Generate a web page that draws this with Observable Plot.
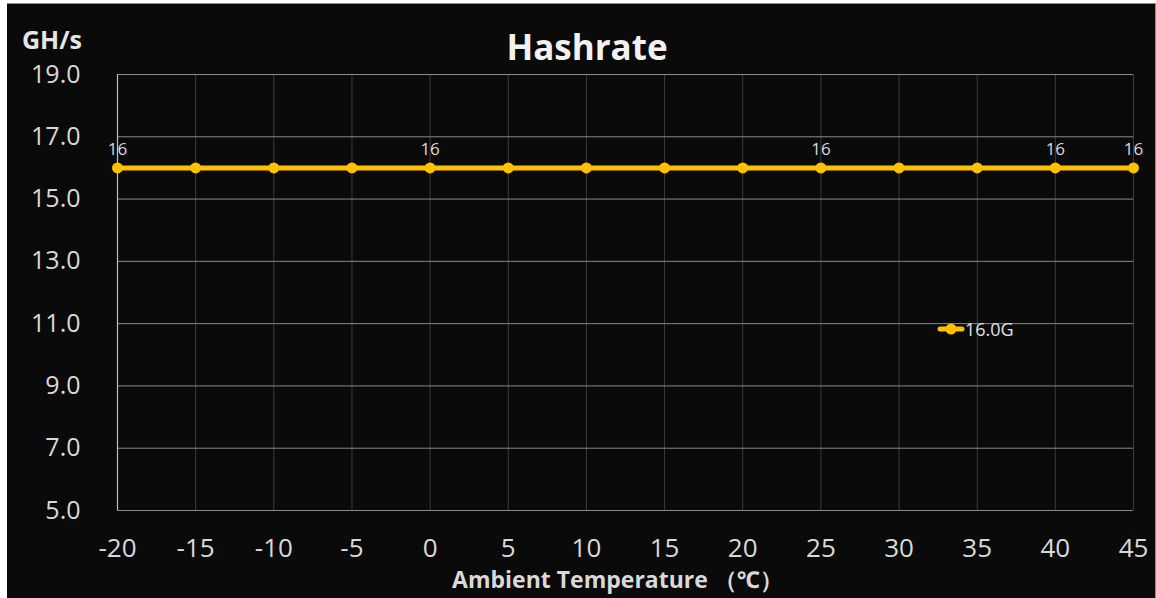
<!DOCTYPE html>
<html>
<head>
<meta charset="utf-8">
<script src="https://cdn.jsdelivr.net/npm/d3@7"></script>
<script src="https://cdn.jsdelivr.net/npm/@observablehq/plot@0.6"></script>
<style>
  html, body { margin: 0; padding: 0; background: #ffffff; }
  body { width: 1156px; height: 598px; position: relative; overflow: hidden; font-family: "Open Sans", "Noto Sans", sans-serif; }
  #panel { position: absolute; left: 7px; top: 3px; width: 1148px; height: 595px; background: #0a0a0a; border-top: 1px solid #a08a50; border-right: 1px solid #a08a50; }
  #chart { position: absolute; left: 0; top: 0; }
  .title { position: absolute; left: 0; width: 1160px; top: 19px; text-align: center; color: #f2f2f2; font-weight: bold; font-size: 35px; line-height: 48px; }
  .unit { position: absolute; left: 15px; top: 23px; color: #e6e6e6; font-weight: bold; font-size: 25px; line-height: 24px; }
  .legend { position: absolute; left: 930px; top: 313px; color: #e0e0e0; font-size: 18px; display: flex; align-items: center; }
</style>
</head>
<body>
<div id="panel">
  <div id="chart"></div>
  <div class="title">Hashrate</div>
  <div class="unit">GH/s</div>
  <div class="legend">
    <svg width="28" height="20"><line x1="3" y1="10" x2="25" y2="10" stroke="#FFC000" stroke-width="5" stroke-linecap="round"/><circle cx="14" cy="10" r="5.5" fill="#FFC000"/></svg>
    <span>16.0G</span>
  </div>
</div>
<script>
const temperatures = [-20, -15, -10, -5, 0, 5, 10, 15, 20, 25, 30, 35, 40, 45];
const hashrate = [16, 16, 16, 16, 16, 16, 16, 16, 16, 16, 16, 16, 16, 16];
const labeledTemps = [-20, 0, 25, 40, 45];
const xTicks = [-20, -15, -10, -5, 0, 5, 10, 15, 20, 25, 30, 35, 40, 45];
const yTicks = [5, 7, 9, 11, 13, 15, 17, 19];

const data = temperatures.map((t, i) => ({t, v: hashrate[i]}));
const labeled = data.filter(d => labeledTemps.includes(d.t));

const chart = Plot.plot({
  width: 1148,
  height: 594,
  marginLeft: 110,
  marginRight: 22,
  marginTop: 70,
  marginBottom: 88,
  style: { background: "transparent", color: "#e0e0e0", fontFamily: "'Open Sans', 'Noto Sans', sans-serif" },
  x: { domain: [-20, 45], ticks: xTicks, label: null },
  y: { domain: [5, 19], ticks: yTicks, label: null },
  marks: [
    Plot.gridX(xTicks, { stroke: "#3c3c3c", strokeOpacity: 1, strokeWidth: 1 }),
    Plot.gridY(yTicks, { stroke: "#8a8a8a", strokeOpacity: 1, strokeWidth: 1 }),
    Plot.ruleX([-20], { stroke: "#bfbfbf", strokeWidth: 1.2 }),
    Plot.axisX({ ticks: xTicks, tickSize: 0, tickPadding: 28, fontSize: 26, fill: "#d9d9d9", tickFormat: d => String(d), label: null }),
    Plot.axisY({ ticks: yTicks, tickSize: 0, tickPadding: 37, fontSize: 25, fill: "#d9d9d9", tickFormat: d3.format(".1f"), label: null }),
    Plot.line(data, { x: "t", y: "v", stroke: "#FFC000", strokeWidth: 5 }),
    Plot.dot(data, { x: "t", y: "v", r: 5.5, fill: "#FFC000", stroke: "none" }),
    Plot.text(labeled, { x: "t", y: "v", text: d => String(d.v), dy: -18, fontSize: 17, fill: "#d9d9d9" }),
    Plot.text(["Ambient Temperature （℃）"], { frameAnchor: "bottom", text: d => d, dy: 77, dx: -8, fontSize: 23, fontWeight: "bold", fill: "#d9d9d9" })
  ]
});
document.getElementById("chart").appendChild(chart);
</script>
</body>
</html>
